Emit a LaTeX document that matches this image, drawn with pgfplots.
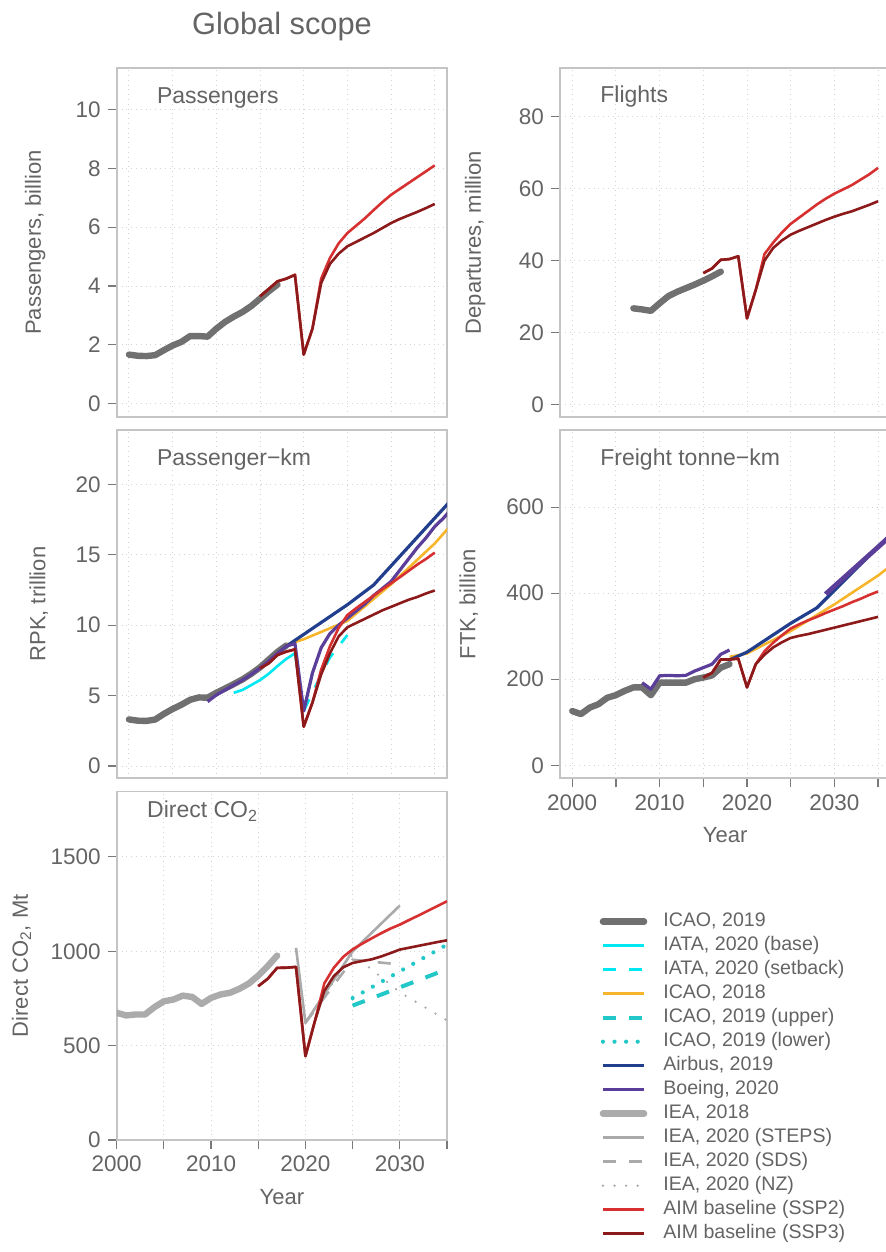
\documentclass[border=0pt]{standalone}
\usepackage{fontspec}
\setmainfont{Liberation Sans}
\usepackage{pgfplots}
\pgfplotsset{compat=1.18}
\definecolor{textc}{HTML}{646464}
\definecolor{boxc}{HTML}{C4C4C4}
\definecolor{gridc}{HTML}{D4D4D4}
\definecolor{tickc}{HTML}{7A7A7A}
\definecolor{cICAOa}{HTML}{707070}
\definecolor{cIATA}{HTML}{00E8F2}
\definecolor{cICAOb}{HTML}{F7B52C}
\definecolor{cTeal}{HTML}{22C7C7}
\definecolor{cAirbus}{HTML}{223F8E}
\definecolor{cBoeing}{HTML}{5B3E99}
\definecolor{cIEAa}{HTML}{ABABAB}
\definecolor{cIEA}{HTML}{AAAAAA}
\definecolor{cSSPa}{HTML}{D63031}
\definecolor{cSSPb}{HTML}{8C1A1A}
\pgfplotsset{
  /pgf/number format/assume math mode=true,
  /pgf/number format/1000 sep={},
  panel/.style={
    scale only axis, width=165.15pt, height=174.2pt,
    xmin=1998.6, xmax=2036.4,
    axis line style={draw=boxc, line width=0.9pt},
    tick pos=left, tick align=outside,
    major tick length=4.5pt,
    tick style={draw=tickc, line width=0.6pt},
    grid=major, grid style={draw=gridc, dotted, line width=0.5pt},
    xtick={2000,2005,...,2035},
    scaled ticks=false,
    no markers,
    tick label style={font=\fontsize{11.25}{13}\selectfont, text=textc},
    label style={font=\fontsize{11}{13}\selectfont, text=textc},
  },
  nox/.style={xticklabels={}, xtick style={draw=none}},
  withx/.style={xticklabels={2000,,2010,,2020,,2030,}, xlabel={Year},
    xlabel style={at={(axis description cs:0.5,-0.163)}, anchor=center}},
  ylab/.style={ylabel style={at={(axis description cs:#1,0.5)}, anchor=center}},
  sIcaoA/.style={color=cICAOa, line width=3.2pt, line cap=round, line join=round},
  sIataBase/.style={color=cIATA, line width=1.3pt, line join=round},
  sIataSet/.style={color=cIATA, line width=1.3pt, dash pattern=on 6.5pt off 6.5pt},
  sIcaoB/.style={color=cICAOb, line width=1.3pt, line join=round},
  sIcaoUp/.style={color=cTeal, line width=2pt, dash pattern=on 6.5pt off 6.5pt},
  sIcaoLow/.style={color=cTeal, line width=2.1pt, line cap=round, dash pattern=on 0pt off 5.8pt},
  sAirbus/.style={color=cAirbus, line width=1.6pt, line join=round},
  sBoeing/.style={color=cBoeing, line width=1.6pt, line join=round},
  sIeaA/.style={color=cIEAa, line width=3.2pt, line cap=round, line join=round},
  sSteps/.style={color=cIEA, line width=1.3pt, line join=round},
  sSds/.style={color=cIEA, line width=1.3pt, dash pattern=on 6.5pt off 6.5pt},
  sNz/.style={color=cIEA, line width=1.3pt, line cap=round, dash pattern=on 0pt off 5.8pt},
  sSspA/.style={color=cSSPa, line width=1.3pt, line join=round},
  sSspB/.style={color=cSSPb, line width=1.3pt, line join=round},
}
\newcommand{\plab}[3]{\node[anchor=west, inner sep=0pt, font=\fontsize{11.5}{13}\selectfont, text=textc] at (rel axis cs:#1,#2) {#3};}
\begin{document}
\begin{tikzpicture}
\useasboundingbox (0pt,0pt) rectangle (443pt,626pt);
\clip (0pt,0pt) rectangle (443pt,626pt);
\node[font=\fontsize{15.4}{18}\selectfont, text=textc] at (141pt,612.5pt) {Global scope};

% ---------- Passengers ----------
\begin{axis}[panel, nox, ylab=-0.247, at={(58.35pt,417.65pt)}, anchor=south west,
  ymin=-0.44, ymax=11.4, ytick={0,2,...,10}, ylabel={Passengers, billion}]
\addplot[sIcaoA] coordinates {(2000,1.67)(2001,1.63)(2002,1.62)(2003,1.65)(2004,1.82)(2005,1.98)(2006,2.10)(2007,2.30)(2008,2.30)(2009,2.28)(2010,2.55)(2011,2.78)(2012,2.96)(2013,3.12)(2014,3.32)(2015,3.57)(2016,3.82)(2017,4.05)};
\addplot[sSspA] coordinates {(2015,3.65)(2016,3.90)(2017,4.16)(2018,4.25)(2019,4.38)(2020,1.67)(2021,2.55)(2022,4.25)(2023,4.95)(2024,5.45)(2025,5.80)(2026,6.05)(2027,6.30)(2028,6.58)(2029,6.85)(2030,7.10)(2031,7.30)(2032,7.50)(2033,7.70)(2034,7.90)(2035,8.10)};
\addplot[sSspB] coordinates {(2015,3.65)(2016,3.90)(2017,4.16)(2018,4.25)(2019,4.38)(2020,1.67)(2021,2.55)(2022,4.10)(2023,4.75)(2024,5.10)(2025,5.35)(2026,5.50)(2027,5.65)(2028,5.80)(2029,5.97)(2030,6.14)(2031,6.28)(2032,6.40)(2033,6.52)(2034,6.65)(2035,6.79)};
\plab{0.121}{0.914}{Passengers}
\end{axis}

% ---------- Flights ----------
\begin{axis}[panel, nox, ylab=-0.257, at={(280pt,417.65pt)}, anchor=south west,
  ymin=-3.45, ymax=93.5, ytick={0,20,...,80}, ylabel={Departures, million}]
\addplot[sIcaoA] coordinates {(2007,26.7)(2008,26.4)(2009,26.0)(2010,28.1)(2011,30.1)(2012,31.3)(2013,32.3)(2014,33.3)(2015,34.4)(2016,35.6)(2017,36.9)};
\addplot[sSspA] coordinates {(2015,36.5)(2016,37.8)(2017,40.2)(2018,40.4)(2019,41.2)(2020,23.9)(2021,31.8)(2022,41.8)(2023,45.0)(2024,47.8)(2025,50.2)(2026,52.0)(2027,53.8)(2028,55.6)(2029,57.2)(2030,58.6)(2031,59.8)(2032,61.0)(2033,62.5)(2034,64.0)(2035,65.8)};
\addplot[sSspB] coordinates {(2015,36.5)(2016,37.8)(2017,40.2)(2018,40.4)(2019,41.2)(2020,23.9)(2021,31.8)(2022,40.0)(2023,43.5)(2024,45.6)(2025,47.2)(2026,48.3)(2027,49.3)(2028,50.3)(2029,51.3)(2030,52.2)(2031,53.0)(2032,53.7)(2033,54.6)(2034,55.5)(2035,56.5)};
\plab{0.121}{0.918}{Flights}
\end{axis}

% ---------- Passenger-km ----------
\begin{axis}[panel, nox, ylab=-0.236, at={(58.35pt,236.85pt)}, anchor=south west,
  ymin=-0.87, ymax=23.86, ytick={0,5,...,20}, ylabel={RPK, trillion}]
\addplot[sIcaoA] coordinates {(2000,3.31)(2001,3.22)(2002,3.20)(2003,3.30)(2004,3.70)(2005,4.05)(2006,4.35)(2007,4.70)(2008,4.87)(2009,4.85)(2010,5.20)(2011,5.50)(2012,5.82)(2013,6.15)(2014,6.55)(2015,7.00)(2016,7.55)(2017,8.10)(2018,8.55)};
\addplot[sIataBase] coordinates {(2012,5.20)(2013,5.40)(2014,5.75)(2015,6.10)(2016,6.55)(2017,7.10)(2018,7.60)(2019,8.00)(2020,3.90)(2021,6.60)};
\addplot[sIataSet] coordinates {(2020,3.90)(2021,5.20)(2022,6.50)(2023,7.70)(2024,8.50)(2025,9.30)};
\addplot[sIcaoB] coordinates {(2018,8.60)(2020,9.00)(2025,10.30)(2030,12.90)(2035,15.80)(2040,19.30)};
\addplot[sAirbus] coordinates {(2018,8.50)(2025,11.45)(2028,12.85)(2035,17.60)(2040,21.00)};
\addplot[sBoeing] coordinates {(2009,4.57)(2010,5.04)(2011,5.40)(2012,5.75)(2013,6.10)(2014,6.50)(2015,6.95)(2016,7.45)(2017,8.00)(2018,8.50)(2019,8.70)(2020,3.90)(2021,6.60)(2022,8.40)(2023,9.40)(2024,10.00)(2025,10.50)(2026,11.00)(2027,11.50)(2028,12.10)(2029,12.60)(2030,13.10)(2031,13.90)(2032,14.70)(2033,15.50)(2034,16.20)(2035,17.00)(2036,17.60)(2037,18.30)};
\addplot[sSspA] coordinates {(2015,6.93)(2016,7.29)(2017,7.88)(2018,8.12)(2019,8.28)(2020,2.79)(2021,4.50)(2022,6.84)(2023,8.50)(2024,9.80)(2025,10.72)(2026,11.20)(2027,11.65)(2028,12.10)(2029,12.55)(2030,12.97)(2031,13.40)(2032,13.85)(2033,14.30)(2034,14.70)(2035,15.15)};
\addplot[sSspB] coordinates {(2015,6.93)(2016,7.29)(2017,7.88)(2018,8.12)(2019,8.28)(2020,2.79)(2021,4.50)(2022,6.50)(2023,8.00)(2024,9.20)(2025,9.85)(2026,10.15)(2027,10.45)(2028,10.75)(2029,11.05)(2030,11.30)(2031,11.55)(2032,11.80)(2033,12.00)(2034,12.25)(2035,12.46)};
\plab{0.121}{0.914}{Passenger−km}
\end{axis}

% ---------- Freight tonne-km ----------
\begin{axis}[panel, withx, ylab=-0.276, at={(280pt,236.85pt)}, anchor=south west,
  ymin=-30.2, ymax=779.6, ytick={0,200,400,600}, ylabel={FTK, billion}]
\addplot[sIcaoA] coordinates {(2000,126)(2001,119)(2002,134)(2003,142)(2004,157)(2005,163)(2006,173)(2007,181)(2008,181)(2009,163)(2010,192)(2011,192)(2012,192)(2013,192)(2014,200)(2015,204)(2016,209)(2017,227)(2018,235)};
\addplot[sIcaoB] coordinates {(2018,252)(2020,260)(2025,312)(2030,374)(2035,441)(2040,520)};
\addplot[sAirbus] coordinates {(2018,245)(2020,263)(2025,330)(2028,366)(2035,508)(2040,610)};
\addplot[sBoeing] coordinates {(2008,192)(2009,177)(2010,208)(2011,209)(2012,208)(2013,209)(2014,219)(2015,227)(2016,235)(2017,258)(2018,268)};
\addplot[sBoeing, line width=2.4pt] coordinates {(2029,398)(2039,580)};
\addplot[sSspA] coordinates {(2015,204)(2016,215)(2017,246)(2018,246)(2019,248)(2020,181)(2021,235)(2022,265)(2023,285)(2024,302)(2025,318)(2026,328)(2027,337)(2028,345)(2029,354)(2030,362)(2031,370)(2032,379)(2033,387)(2034,396)(2035,404)};
\addplot[sSspB] coordinates {(2015,204)(2016,215)(2017,246)(2018,246)(2019,248)(2020,181)(2021,235)(2022,257)(2023,274)(2024,286)(2025,296)(2026,301)(2027,305)(2028,310)(2029,315)(2030,320)(2031,325)(2032,330)(2033,335)(2034,340)(2035,345)};
\plab{0.121}{0.914}{Freight tonne−km}
\end{axis}

% ---------- Direct CO2 ----------
\begin{axis}[panel, withx, ylab=-0.288, at={(58.35pt,56pt)}, anchor=south west,
  xmin=2000, xmax=2035,
  ymin=0, ymax=1846, ytick={0,500,1000,1500}, ylabel={Direct CO\textsubscript{2}, Mt}]
\addplot[sIcaoUp] coordinates {(2025,712)(2035,905)};
\addplot[sIcaoLow] coordinates {(2025,752)(2035,1035)};
\addplot[sIeaA] coordinates {(2000,674)(2001,660)(2002,665)(2003,665)(2004,704)(2005,735)(2006,744)(2007,765)(2008,758)(2009,721)(2010,753)(2011,771)(2012,780)(2013,801)(2014,829)(2015,871)(2016,921)(2017,977)};
\addplot[sSteps] coordinates {(2019,1018)(2020,621)(2025,1000)(2030,1242)};
\addplot[sSds] coordinates {(2020,621)(2025,955)(2030,930)};
\addplot[sNz] coordinates {(2020,621)(2025,985)(2030,783)(2035,633)};
\addplot[sSspA] coordinates {(2015,815)(2016,854)(2017,912)(2018,913)(2019,917)(2020,444)(2021,630)(2022,830)(2023,912)(2024,970)(2025,1010)(2026,1040)(2027,1068)(2028,1095)(2029,1120)(2030,1141)(2031,1166)(2032,1190)(2033,1215)(2034,1240)(2035,1265)};
\addplot[sSspB] coordinates {(2015,815)(2016,854)(2017,912)(2018,913)(2019,917)(2020,444)(2021,630)(2022,790)(2023,868)(2024,915)(2025,938)(2026,948)(2027,957)(2028,972)(2029,990)(2030,1009)(2031,1019)(2032,1029)(2033,1039)(2034,1049)(2035,1058)};
\plab{0.091}{0.943}{Direct CO\textsubscript{2}}
\end{axis}

% ---------- Legend ----------
\begin{axis}[at={(0pt,0pt)}, anchor=south west, scale only axis, width=443pt, height=626pt,
  hide axis, xmin=0, xmax=1, ymin=0, ymax=1,
  legend style={at={(0.67686,0.2734)}, anchor=north west, draw=none, fill=none,
    inner sep=0pt, outer sep=0pt, row sep=0pt, column sep=7pt,
    font=\fontsize{9.8}{11}\selectfont, text=textc,
    nodes={inner sep=1pt, text height=7.5pt, text depth=2.5pt}},
  legend cell align=left,
  legend image code/.code={\draw[#1] (0pt,0pt) -- (20.6pt,0pt);}]
\addlegendimage{sIcaoA}
\addlegendimage{sIataBase}
\addlegendimage{sIataSet}
\addlegendimage{sIcaoB}
\addlegendimage{sIcaoUp}
\addlegendimage{sIcaoLow}
\addlegendimage{sAirbus}
\addlegendimage{sBoeing}
\addlegendimage{sIeaA}
\addlegendimage{sSteps}
\addlegendimage{sSds}
\addlegendimage{sNz}
\addlegendimage{sSspA}
\addlegendimage{sSspB}
\legend{{ICAO, 2019},{IATA, 2020 (base)},{IATA, 2020 (setback)},{ICAO, 2018},{ICAO, 2019 (upper)},{ICAO, 2019 (lower)},{Airbus, 2019},{Boeing, 2020},{IEA, 2018},{IEA, 2020 (STEPS)},{IEA, 2020 (SDS)},{IEA, 2020 (NZ)},{AIM baseline (SSP2)},{AIM baseline (SSP3)}}
\end{axis}
\end{tikzpicture}
\end{document}
